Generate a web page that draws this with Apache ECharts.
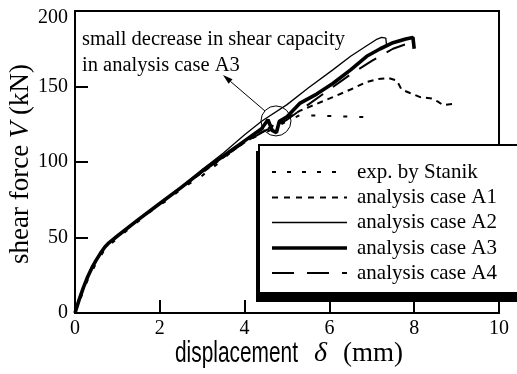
<!DOCTYPE html>
<html><head><meta charset="utf-8">
<script src="https://cdn.jsdelivr.net/npm/echarts@6/dist/echarts.min.js"></script>
<style>html,body{margin:0;padding:0;background:#fff}#c{width:517px;height:374px}</style>
</head><body><div id="c"></div>
<script>
const xMin = 0, xMax = 10, xStep = 2;
const yMin = 0, yMax = 200, yStep = 50;
const seriesNames = ['exp. by Stanik', 'analysis case A1', 'analysis case A2', 'analysis case A3', 'analysis case A4'];
const expData = [[0,0],[0.15,11],[0.3,22],[0.5,33],[0.7,42],[0.94,48],[1.37,58],[1.82,68],[2.19,75],[2.55,83],[3.0,91],[3.37,99],[3.9,112],[4.2,116],[4.6,121],[5.0,127],[5.3,131],[6.0,130.5],[7.03,129.5]];
const a1Data = [[0,0],[0.1,9],[0.2,17],[0.3,24],[0.4,30],[0.5,35],[0.6,39.5],[0.7,43.5],[0.8,46.5],[1.0,51],[1.5,62],[2.0,72.5],[2.5,83],[3.0,93],[3.5,103],[4.0,113],[4.6,123],[5.0,129],[5.31,134],[5.7,138.5],[6.08,143],[6.5,148],[6.88,153],[7.15,155],[7.39,155.6],[7.59,154],[7.7,148],[7.9,145.7],[8.14,143],[8.42,142],[8.56,140],[8.68,137.7],[8.9,138.4]];
const a2Data = [[0,0],[0.1,9],[0.2,17],[0.3,24],[0.4,30],[0.5,35],[0.6,39.5],[0.7,43.5],[0.8,46.5],[1.0,51],[1.5,62],[2.0,72.5],[2.5,83.5],[3.0,95],[3.5,106],[4.0,118],[4.4,127],[5.0,138],[5.5,149],[6.08,161],[6.5,170],[6.88,177],[7.1,181],[7.23,182.5],[7.33,182],[7.35,177]];
const a3Data = [[0,0],[0.1,9],[0.2,17],[0.3,24],[0.4,30],[0.5,35],[0.6,39.5],[0.7,43.5],[0.8,46.5],[1.0,51],[1.5,62],[2.0,72.5],[2.5,83],[3.0,94],[3.5,104],[4.0,114],[4.4,122],[4.55,128],[4.65,121],[4.75,119.5],[4.82,127],[5.0,130],[5.31,139],[5.7,145],[6.08,152],[6.5,161],[6.88,170],[7.2,175],[7.5,179],[7.8,181.5],[7.97,182.5],[8.0,175]];
const a4Data = [[0,0],[0.1,9],[0.2,17],[0.3,24],[0.4,30],[0.5,35],[0.6,39.5],[0.7,43.5],[0.8,46.5],[1.0,51],[1.5,62],[2.0,72.5],[2.5,83],[3.0,93.5],[3.5,103.5],[4.0,113],[4.5,121],[4.75,124],[5.0,128],[5.5,138],[6.0,148],[6.5,158],[7.0,167],[7.5,175],[7.9,179]];
const noteLines = ['small decrease in shear capacity', 'in analysis case A3'];
const noteCircle = [4.74, 127.2];
const noteArrowFrom = [4.48, 133.8];
const noteArrowTo = [3.49, 157.6];

const SERIF = 'Liberation Serif';
const SANS = 'Liberation Sans';
const chart = echarts.init(document.getElementById('c'), null, {renderer: 'canvas'});

const lineStyles = [
  {color:'#000', width:2, type:[4,12]},
  {color:'#000', width:2, type:[6,5]},
  {color:'#000', width:1.3, type:'solid'},
  {color:'#000', width:3.6, type:'solid'},
  {color:'#000', width:2, type:[20,12]}
];
const datas = [expData, a1Data, a2Data, a3Data, a4Data];
const zs = [2, 3, 6, 5, 4];

chart.setOption({
  animation: false,
  backgroundColor: '#fff',
  grid: {left: 75, right: 18, top: 11, bottom: 61, show: true, borderColor: '#000', borderWidth: 2, backgroundColor: 'transparent'},
  xAxis: {
    type: 'value', min: xMin, max: xMax, interval: xStep,
    axisLine: {show: true, onZero: false, lineStyle: {color: '#000', width: 2}},
    axisTick: {show: true, inside: true, length: 13, lineStyle: {color: '#000', width: 2}},
    axisLabel: {color: '#000', fontFamily: SERIF, fontSize: 20, margin: 6},
    splitLine: {show: false}
  },
  yAxis: {
    type: 'value', min: yMin, max: yMax, interval: yStep,
    axisLine: {show: true, onZero: false, lineStyle: {color: '#000', width: 2}},
    axisTick: {show: true, inside: true, length: 13, lineStyle: {color: '#000', width: 2}},
    axisLabel: {color: '#000', fontFamily: SERIF, fontSize: 20, margin: 7,
      formatter: v => v === yMax ? '{t|' + v + '}' : String(v),
      rich: {t: {fontFamily: SERIF, fontSize: 20, color: '#000', padding: [14, 0, 0, 0]}}},
    splitLine: {show: false}
  },
  series: datas.map((d, i) => ({
    name: seriesNames[i], type: 'line', data: d, showSymbol: false, symbol: 'none',
    lineStyle: lineStyles[i], z: zs[i], clip: false
  }))
});

const c = chart.convertToPixel({gridIndex: 0}, noteCircle);
const aF = chart.convertToPixel({gridIndex: 0}, noteArrowFrom);
const aT = chart.convertToPixel({gridIndex: 0}, noteArrowTo);
const ang = Math.atan2(aT[1] - aF[1], aT[0] - aF[0]);
const hl = 10, hw = 3;
const bx = aT[0] - hl * Math.cos(ang), by = aT[1] - hl * Math.sin(ang);
const head = [[aT[0], aT[1]], [bx + hw * Math.sin(ang), by - hw * Math.cos(ang)], [bx - hw * Math.sin(ang), by + hw * Math.cos(ang)]];

const legX0 = 259, legY0 = 145, legW = 270, legH = 148;
const rowY = [172, 197.5, 222.5, 248, 273];
const legendEls = [
  {type: 'rect', shape: {x: legX0 - 3, y: legY0 + 6, width: legW, height: 151}, style: {fill: '#000'}, z: 100},
  {type: 'rect', shape: {x: legX0, y: legY0, width: legW, height: legH}, style: {fill: '#fff', stroke: '#000', lineWidth: 2}, z: 101}
];
const legLineStyles = [
  {lineWidth: 2, lineDash: [4, 11]},
  {lineWidth: 2, lineDash: [6, 6]},
  {lineWidth: 1.3, lineDash: null},
  {lineWidth: 3.6, lineDash: null},
  {lineWidth: 2, lineDash: [22, 13]}
];
seriesNames.forEach((n, i) => {
  legendEls.push({type: 'line', shape: {x1: 272, y1: rowY[i], x2: 347, y2: rowY[i]},
    style: Object.assign({stroke: '#000'}, legLineStyles[i]), z: 102});
  legendEls.push({type: 'text', x: 357, y: rowY[i], style: {text: n, fontFamily: SERIF, fontSize: 21, fill: '#000', align: 'left', verticalAlign: 'middle'}, z: 102});
});

chart.setOption({
  graphic: [
    {type: 'circle', shape: {cx: c[0], cy: c[1], r: 15}, style: {fill: 'none', stroke: '#000', lineWidth: 1}, z: 50},
    {type: 'line', shape: {x1: aF[0], y1: aF[1], x2: bx, y2: by}, style: {stroke: '#000', lineWidth: 1}, z: 50},
    {type: 'polygon', shape: {points: head}, style: {fill: '#000'}, z: 50},
    {type: 'text', x: 82, y: 40, style: {text: noteLines[0], fontFamily: SERIF, fontSize: 20.5, fill: '#000', align: 'left', verticalAlign: 'middle'}, z: 50},
    {type: 'text', x: 82, y: 66, style: {text: noteLines[1], fontFamily: SERIF, fontSize: 20.5, fill: '#000', align: 'left', verticalAlign: 'middle'}, z: 50},
    ...legendEls,
    {type: 'text', x: 175, y: 354, scaleX: 0.72, style: {text: 'displacement', fontFamily: SANS, fontSize: 29, fill: '#000', align: 'left', verticalAlign: 'middle'}},
    {type: 'text', x: 314, y: 354, style: {text: 'δ', fontFamily: SERIF, fontStyle: 'italic', fontSize: 28, fill: '#000', align: 'left', verticalAlign: 'middle'}},
    {type: 'text', x: 343, y: 354, style: {text: '(mm)', fontFamily: SERIF, fontSize: 27, fill: '#000', align: 'left', verticalAlign: 'middle'}},
    {type: 'text', x: 21, y: 164, rotation: Math.PI / 2,
      style: {text: '{a|shear force}  {b|V}  {a|(kN)}', align: 'center', verticalAlign: 'middle',
        rich: {a: {fontFamily: SERIF, fontSize: 27, fill: '#000', color: '#000'}, b: {fontFamily: SERIF, fontStyle: 'italic', fontSize: 27, fill: '#000', color: '#000'}}}}
  ]
});
</script></body></html>
